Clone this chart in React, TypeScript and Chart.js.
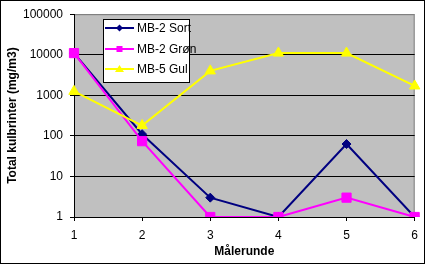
import React, { useEffect, useRef } from "react";
import { Chart, registerables } from "chart.js";

Chart.register(...registerables);

const categories = ["1", "2", "3", "4", "5", "6"];
const mb2Sort = [11000, 110, 3, 1, 63, 1];
const mb2Gron = [11000, 74, 1, 1, 3, 1];
const mb5Gul = [1250, 180, 4000, 11000, 11000, 1700];
const yTicks = [1, 10, 100, 1000, 10000, 100000];
const seriesNames = ["MB-2 Sort", "MB-2 Grøn", "MB-5 Gul"];
const seriesColors = ["#000080", "#FF00FF", "#FFFF00"];
const legendMarkers = ["diamond", "square", "triangle"];

const FONT = "'Liberation Sans', Arial, sans-serif";

const bgPlugin = {
  id: "bgPlugin",
  beforeDraw(chart: any) {
    const { ctx, chartArea: a, width, height } = chart;
    ctx.save();
    ctx.fillStyle = "#ffffff";
    ctx.fillRect(0, 0, width, height);
    ctx.fillStyle = "#C0C0C0";
    ctx.fillRect(a.left, a.top, a.right - a.left, a.bottom - a.top);
    ctx.strokeStyle = "#808080";
    ctx.lineWidth = 1;
    ctx.beginPath();
    ctx.moveTo(a.left, a.top + 0.5);
    ctx.lineTo(a.right - 0.5, a.top + 0.5);
    ctx.lineTo(a.right - 0.5, a.bottom);
    ctx.stroke();
    ctx.restore();
  },
  afterDraw(chart: any) {
    const { ctx, width, height } = chart;
    ctx.save();
    // outer border
    ctx.strokeStyle = "#000";
    ctx.lineWidth = 1;
    ctx.strokeRect(0.5, 0.5, width - 1, height - 1);
    // legend box
    const bx = 103, by = 19, bw = 87, bh = 64;
    ctx.fillStyle = "#fff";
    ctx.fillRect(bx, by, bw, bh);
    ctx.strokeRect(bx + 0.5, by + 0.5, bw - 1, bh - 1);
    const rows = [28, 49, 69];
    ctx.font = "12px " + FONT;
    ctx.textBaseline = "middle";
    ctx.textAlign = "left";
    seriesNames.forEach((name, i) => {
      const y = rows[i];
      const c = seriesColors[i];
      ctx.strokeStyle = c;
      ctx.lineWidth = 2;
      ctx.beginPath();
      ctx.moveTo(105, y);
      ctx.lineTo(134, y);
      ctx.stroke();
      ctx.fillStyle = c;
      const mx = 119.5;
      ctx.beginPath();
      if (legendMarkers[i] === "diamond") {
        ctx.moveTo(mx, y - 3.5);
        ctx.lineTo(mx + 3.5, y);
        ctx.lineTo(mx, y + 3.5);
        ctx.lineTo(mx - 3.5, y);
      } else if (legendMarkers[i] === "square") {
        ctx.rect(mx - 3, y - 3, 6, 6);
      } else {
        ctx.moveTo(mx, y - 4);
        ctx.lineTo(mx + 4.5, y + 3);
        ctx.lineTo(mx - 4.5, y + 3);
      }
      ctx.closePath();
      ctx.fill();
      ctx.fillStyle = "#000";
      ctx.fillText(name, 137, y + 1);
    });
    ctx.restore();
  },
};

export default function App() {
  const ref = useRef<HTMLCanvasElement>(null);
  useEffect(() => {
    document.body.style.margin = "0";
    const canvas = ref.current!;
    const chart = new Chart(canvas, {
      type: "line",
      data: {
        labels: categories,
        datasets: [
          {
            label: seriesNames[0],
            data: mb2Sort,
            borderColor: seriesColors[0],
            backgroundColor: seriesColors[0],
            borderWidth: 2,
            pointStyle: "rectRot",
            pointRadius: 4.5,
            pointBorderWidth: 1,
            order: 3,
          },
          {
            label: seriesNames[1],
            data: mb2Gron,
            borderColor: seriesColors[1],
            backgroundColor: seriesColors[1],
            borderWidth: 2,
            pointStyle: "rect",
            pointRadius: 6.5,
            pointBorderWidth: 1,
            order: 2,
          },
          {
            label: seriesNames[2],
            data: mb5Gul,
            borderColor: seriesColors[2],
            backgroundColor: seriesColors[2],
            borderWidth: 2,
            pointStyle: "triangle",
            pointRadius: 6,
            pointBorderWidth: 1,
            order: 1,
          },
        ],
      },
      options: {
        responsive: false,
        animation: false,
        devicePixelRatio: 1,
        layout: { padding: { top: 13, right: 6, left: 0, bottom: 0 } },
        plugins: {
          legend: { display: false },
          tooltip: { enabled: false },
        },
        scales: {
          x: {
            type: "category",
            offset: false,
            grid: {
              display: true,
              drawOnChartArea: false,
              drawTicks: true,
              tickLength: 4,
              color: "#000",
            },
            border: { color: "#000", width: 1 },
            ticks: {
              color: "#000",
              font: { family: FONT, size: 12 },
              padding: 7,
              maxRotation: 0,
            },
            title: {
              display: true,
              text: "Målerunde",
              color: "#000",
              font: { family: FONT, size: 12, weight: "bold" },
              padding: { top: 0, bottom: 5 },
            },
            afterFit(scale: any) {
              scale.height = 47;
            },
          },
          y: {
            type: "logarithmic",
            min: 1,
            max: 100000,
            grid: {
              color: (ctx: any) =>
                ctx.tick && ctx.tick.value === 100000 ? "#808080" : "#000",
              tickLength: 4,
              tickColor: "#000",
            },
            border: { color: "#000", width: 1 },
            ticks: {
              color: "#000",
              font: { family: FONT, size: 12 },
              padding: 7,
              callback: (v: any) => String(v),
            },
            afterBuildTicks(scale: any) {
              scale.ticks = yTicks.map((v) => ({ value: v }));
            },
            title: {
              display: true,
              text: "Total kulbrinter (mg/m3)",
              color: "#000",
              font: { family: FONT, size: 12, weight: "bold" },
              padding: { top: 5, bottom: 0 },
            },
            afterFit(scale: any) {
              scale.width = 74;
            },
          },
        },
      },
      plugins: [bgPlugin],
    } as any);
    return () => chart.destroy();
  }, []);
  return (
    <div style={{ width: 425, height: 264 }}>
      <canvas ref={ref} width={425} height={264} style={{ display: "block" }} />
    </div>
  );
}
